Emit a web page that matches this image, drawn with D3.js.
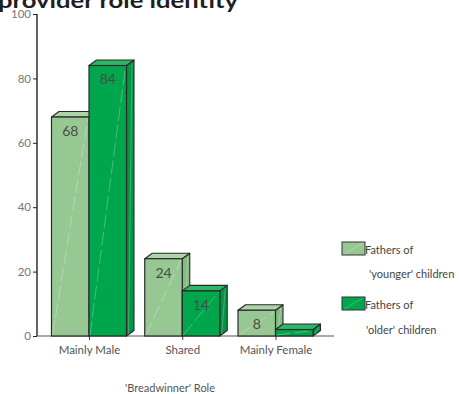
<!DOCTYPE html>
<html>
<head>
<meta charset="utf-8">
<script src="https://cdn.jsdelivr.net/npm/d3@7"></script>
<style>
  html, body { margin: 0; padding: 0; background: #fff; }
  svg { display: block; font-family: "Lato", "Open Sans", sans-serif; }
</style>
</head>
<body>
<svg id="chart" width="459" height="394"></svg>
<script>
// Share of fathers by breadwinner role (%)
const categories = ["Mainly Male", "Shared", "Mainly Female"];
const seriesNames = ["Fathers of 'younger' children", "Fathers of 'older' children"];
const younger = [68, 24, 8];
const older = [84, 14, 2];
const yTicks = [0, 20, 40, 60, 80, 100];
const legendLines = [["Fathers of", "'younger' children"], ["Fathers of", "'older' children"]];

const colors = ["#97c893", "#00a64c"];
const topColors = ["#acd4a8", "#2cb666"];
const sideColors = ["#86bb82", "#009643"];
const depth = { dx: 7.5, dy: -5.5 };
const FONT = "Lato, 'Open Sans', sans-serif";

const svg = d3.select("#chart");

// Title (top of the figure)
svg.append("text")
  .attr("x", -2).attr("y", 8)
  .attr("font-size", 21).attr("font-weight", 700)
  .attr("fill", "#1f1f1f")
  .attr("textLength", 240).attr("lengthAdjust", "spacingAndGlyphs")
  .text("provider role identity");

const y = d3.scaleLinear().domain([0, 100]).range([336, 14]);
const xc = d3.scalePoint().domain(categories).range([89, 275.5]);
const xs = d3.scaleBand().domain(seriesNames).range([-37.5, 37.5]);

// Y axis
const yAxis = svg.append("g").attr("transform", "translate(37,0)")
  .call(d3.axisLeft(y).tickValues(yTicks).tickSize(4).tickPadding(2));
yAxis.select(".domain").attr("stroke", "#222").attr("stroke-width", 1.4).attr("d", `M0,${y(100)}V${y(0)}`);
yAxis.selectAll(".tick line").attr("stroke", "#222");
yAxis.selectAll(".tick text").attr("fill", "#777").attr("font-size", 11.5).attr("font-family", FONT);

// X baseline and category ticks
svg.append("line").attr("x1", 37).attr("x2", 334).attr("y1", y(0)).attr("y2", y(0))
  .attr("stroke", "#555").attr("stroke-width", 1.2);
const xAxis = svg.append("g").attr("transform", `translate(0,${y(0)})`)
  .call(d3.axisBottom(xc).tickSize(4).tickPadding(6));
xAxis.select(".domain").remove();
xAxis.selectAll(".tick line").attr("stroke", "#444");
xAxis.selectAll(".tick text").attr("fill", "#555").attr("font-size", 11.5).attr("font-family", FONT);

// 3D bars
const series = [younger, older];
categories.forEach((cat, ci) => {
  seriesNames.forEach((name, si) => {
    const v = series[si][ci];
    const x0 = xc(cat) + xs(name);
    const w = xs.bandwidth();
    const yt = y(v), yb = y(0);
    const g = svg.append("g");
    // side face
    g.append("path")
      .attr("d", `M${x0 + w},${yt}L${x0 + w + depth.dx},${yt + depth.dy}L${x0 + w + depth.dx},${yb + depth.dy}L${x0 + w},${yb}Z`)
      .attr("fill", sideColors[si]).attr("stroke", "#2a2a2a").attr("stroke-width", 1.1).attr("stroke-linejoin", "round");
    // top face
    g.append("path")
      .attr("d", `M${x0},${yt}L${x0 + depth.dx},${yt + depth.dy}L${x0 + w + depth.dx},${yt + depth.dy}L${x0 + w},${yt}Z`)
      .attr("fill", topColors[si]).attr("stroke", "#2a2a2a").attr("stroke-width", 1.1).attr("stroke-linejoin", "round");
    // front face
    g.append("rect")
      .attr("x", x0).attr("y", yt).attr("width", w).attr("height", yb - yt)
      .attr("fill", colors[si]).attr("stroke", "#2a2a2a").attr("stroke-width", 1.2);
    // faint sheen line across the front face
    g.append("line")
      .attr("x1", x0 + 1).attr("y1", yb - 1).attr("x2", x0 + w - 1).attr("y2", yt + 1)
      .attr("stroke", "#ffffff").attr("stroke-opacity", 0.35).attr("stroke-width", 0.8)
      .attr("stroke-dasharray", "14,4");
    // faint sheen on the side face
    g.append("line")
      .attr("x1", x0 + w + 2).attr("y1", yb - 2).attr("x2", x0 + w + depth.dx - 2).attr("y2", yt + depth.dy + 3)
      .attr("stroke", "#ffffff").attr("stroke-opacity", 0.3).attr("stroke-width", 0.8);
    if (v >= 5) {
      g.append("text")
        .attr("x", x0 + w / 2).attr("y", yt + 14)
        .attr("dy", "0.35em")
        .attr("text-anchor", "middle")
        .attr("font-size", 14).attr("fill", "#4a4a4a")
        .text(v);
    }
  });
});

// Axis title
svg.append("text").attr("x", 170).attr("y", 392).attr("text-anchor", "middle")
  .attr("font-size", 11).attr("fill", "#555").text("'Breadwinner' Role");

// Legend
const legendY = [242, 297];
seriesNames.forEach((name, si) => {
  const g = svg.append("g").attr("transform", `translate(342,${legendY[si]})`);
  g.append("rect").attr("width", 23).attr("height", 13)
    .attr("fill", colors[si]).attr("stroke", "#333").attr("stroke-width", 1);
  g.append("line").attr("x1", 2).attr("y1", 12).attr("x2", 21).attr("y2", 1)
    .attr("stroke", "#fff").attr("stroke-opacity", 0.35).attr("stroke-width", 0.7);
  g.append("text").attr("x", 23).attr("y", 11.5).attr("font-size", 11).attr("fill", "#444")
    .text(legendLines[si][0]);
  g.append("text").attr("x", si === 0 ? 27 : 24).attr("y", si === 0 ? 36 : 37).attr("font-size", 11).attr("fill", "#444")
    .text(legendLines[si][1]);
});
</script>
</body>
</html>
